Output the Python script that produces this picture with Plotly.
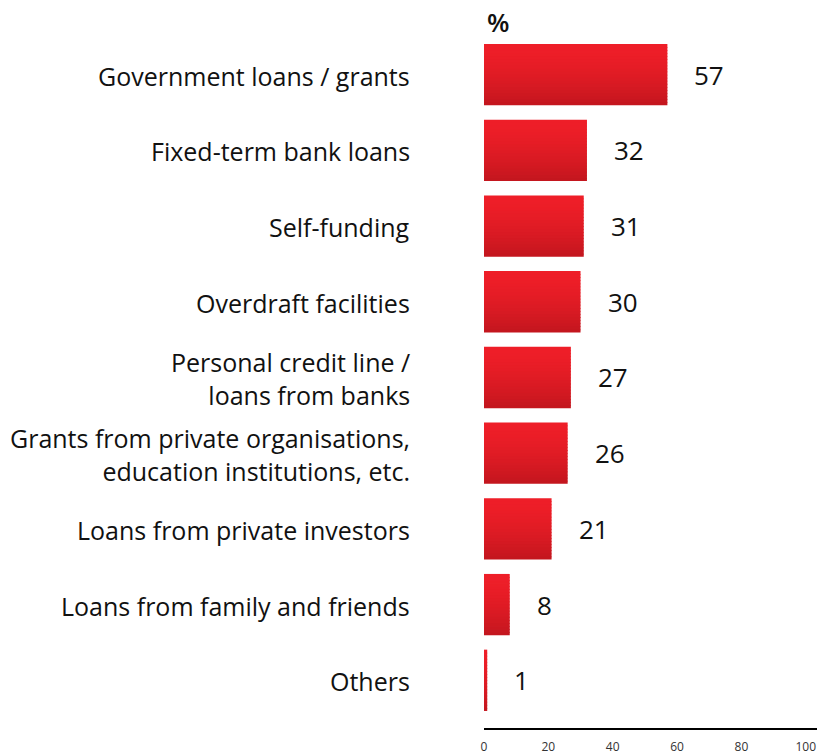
import plotly.graph_objects as go

# Sources of funding, share of respondents (%)
categories = [
    "Government loans / grants",
    "Fixed-term bank loans",
    "Self-funding",
    "Overdraft facilities",
    "Personal credit line /<br>loans from banks",
    "Grants from private organisations,<br>education institutions, etc.",
    "Loans from private investors",
    "Loans from family and friends",
    "Others",
]
values = [57, 32, 31, 30, 27, 26, 21, 8, 1]
x_ticks = [0, 20, 40, 60, 80, 100]

FONT = "Open Sans"
TOP_RGB = (238, 30, 40)
BOTTOM_RGB = (196, 22, 30)

positions = list(range(len(categories)))
fig = go.Figure()

# Vertical red gradient on each bar, built from thin stacked slices
n_slices = 20
bar_width = 0.81
step = bar_width / n_slices
for i in range(n_slices):
    t = (i / (n_slices - 1)) ** 1.6
    rgb = tuple(round(a + (b - a) * t) for a, b in zip(TOP_RGB, BOTTOM_RGB))
    fig.add_trace(go.Bar(
        x=values,
        y=positions,
        orientation="h",
        width=step * 1.25 if i < n_slices - 1 else step,
        offset=-bar_width / 2 + i * step,
        marker=dict(color="rgb(%d,%d,%d)" % rgb, line=dict(width=0)),
        hoverinfo="skip",
        showlegend=False,
    ))

annotations = []
for pos, cat, val in zip(positions, categories, values):
    annotations.append(dict(
        x=0, xref="paper", y=pos, yref="y", text=cat,
        xanchor="right", yanchor="middle", align="right", xshift=-72, yshift=-1,
        showarrow=False, font=dict(family=FONT, size=25, color="#111111"),
    ))
    annotations.append(dict(
        x=val, xref="x", y=pos, yref="y", text=str(val),
        xanchor="left", yanchor="middle", xshift=25,
        showarrow=False, font=dict(family=FONT, size=26, color="#111111"),
    ))
annotations.append(dict(
    x=0, xref="paper", y=1, yref="paper", text="%",
    xanchor="left", yanchor="bottom", xshift=1, yshift=-12,
    showarrow=False, font=dict(family=FONT, size=26, color="#111111", weight=600),
))

fig.update_layout(
    width=817, height=755,
    margin=dict(l=484, r=0, t=30, b=23),
    paper_bgcolor="white", plot_bgcolor="white",
    barmode="overlay",
    annotations=annotations,
    xaxis=dict(
        range=[0, 103.5], tickvals=x_ticks, ticks="", showgrid=False, zeroline=False,
        showline=True, linecolor="black", linewidth=2,
        ticklabelstandoff=7,
        tickfont=dict(family=FONT, size=12, color="#333333"),
    ),
    yaxis=dict(
        range=[8.63, -0.59], showticklabels=False, ticks="", showgrid=False,
        zeroline=False, showline=False,
    ),
)

fig.write_html("out.html")
